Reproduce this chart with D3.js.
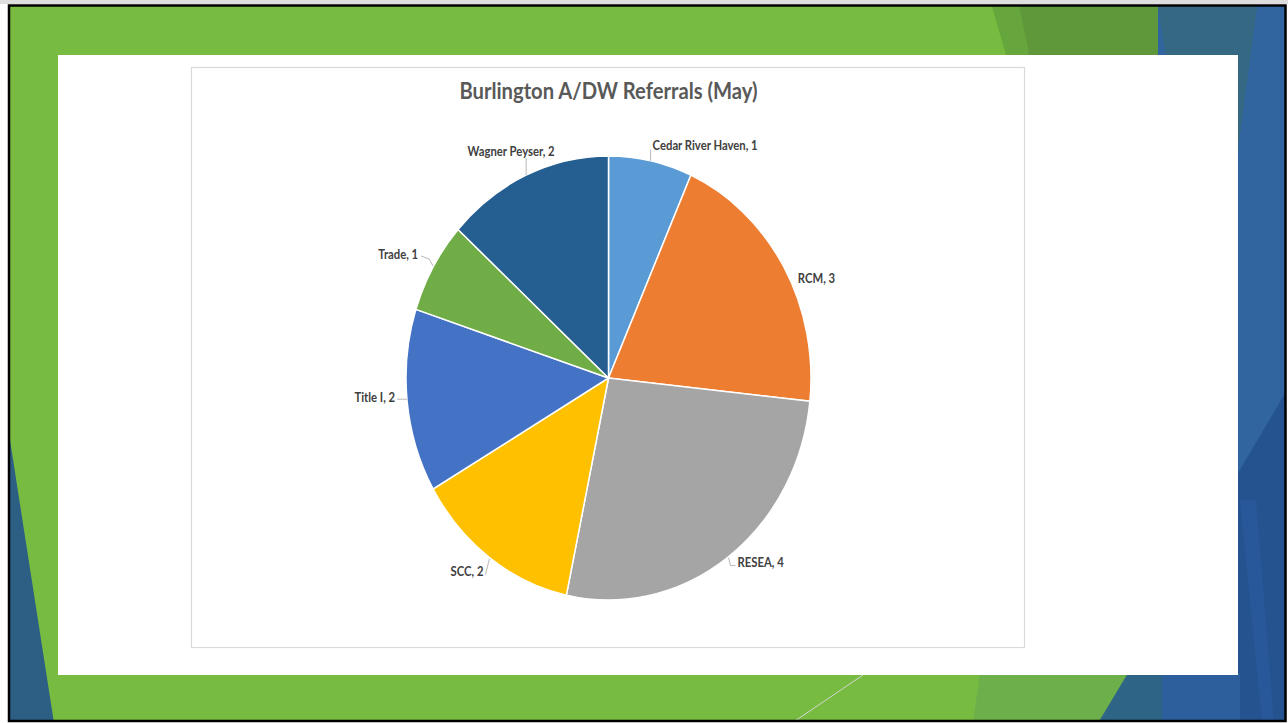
<!DOCTYPE html>
<html>
<head>
<meta charset="utf-8">
<script src="https://cdn.jsdelivr.net/npm/d3@7"></script>
<style>
  html, body { margin: 0; padding: 0; background: #ffffff; }
  svg { display: block; }
</style>
</head>
<body>
<svg id="slide" width="1288" height="723"></svg>
<script>
// Referral counts by program
const categories = ["Cedar River Haven", "RCM", "RESEA", "SCC", "Title I", "Trade", "Wagner Peyser"];
const values = [1, 3, 4, 2, 2, 1, 2];
const sliceColors = ["#5B9BD5", "#ED7D31", "#A5A5A5", "#FFC000", "#4472C4", "#70AD47", "#255E91"];
const chartTitle = "Burlington A/DW Referrals (May)";

const W = 1288, H = 723;
const svg = d3.select("#slide");

// ---------- slide background ----------
svg.append("rect").attr("x", 0).attr("y", 0).attr("width", W).attr("height", 4).attr("fill", "#dedede");
const clipId = "frameClip";
svg.append("clipPath").attr("id", clipId)
  .append("rect").attr("x", 9).attr("y", 6).attr("width", 1276).attr("height", 715);
const bg = svg.append("g").attr("clip-path", `url(#${clipId})`);
bg.append("rect").attr("x", 0).attr("y", 0).attr("width", W).attr("height", H).attr("fill", "#77BB41");

const shapes = [
  // top-right green bands
  { pts: [[990, 0], [1158, 0], [1166, 58], [1007, 58]], fill: "#66A63C" },
  { pts: [[1018, 0], [1158, 0], [1166, 58], [1030, 58]], fill: "#5E983A" },
  // right blue column
  { pts: [[1158, 0], [1290, 0], [1290, 723], [1158, 723]], fill: "#3165A0" },
  { pts: [[1157, 0], [1258, 0], [1238, 150], [1166, 58]], fill: "#356882" },
  { pts: [[1238, 473], [1290, 385], [1290, 723], [1238, 723]], fill: "#24538F" },
  { pts: [[1240, 500], [1256, 500], [1274, 723], [1262, 723]], fill: "#28589A" },
  // bottom-right bands
  { pts: [[980, 673], [1128, 673], [1098, 723], [973, 723]], fill: "#6DB04B" },
  { pts: [[1128, 673], [1162, 673], [1162, 723], [1098, 723]], fill: "#2E6486" },
  { pts: [[1162, 673], [1240, 673], [1240, 723], [1162, 723]], fill: "#2C5F9B" },
  // left blue sliver
  { pts: [[0, 440], [10, 440], [54, 723], [0, 723]], fill: "#2D5F85" }
];
bg.selectAll("polygon.deco").data(shapes).join("polygon")
  .attr("class", "deco")
  .attr("points", d => d.pts.map(p => p.join(",")).join(" "))
  .attr("fill", d => d.fill);

bg.append("line").attr("x1", 792).attr("y1", 723).attr("x2", 863).attr("y2", 675)
  .attr("stroke", "#d6d6d6").attr("stroke-width", 1);

// frame border
svg.append("rect").attr("x", 9).attr("y", 5.5).attr("width", 1276.5).attr("height", 715.5)
  .attr("fill", "none").attr("stroke", "#000").attr("stroke-width", 2.5);

// white content panel
svg.append("rect").attr("x", 58).attr("y", 55).attr("width", 1180).attr("height", 620).attr("fill", "#ffffff");

// chart box
svg.append("rect").attr("x", 191.5).attr("y", 67.5).attr("width", 833).attr("height", 580)
  .attr("fill", "#ffffff").attr("stroke", "#d9d9d9").attr("stroke-width", 1.2);

// ---------- chart ----------
const cx = 608.5, cy = 378, ry = 222, rx = 202.5;
const stretch = ry / rx;  // chart is drawn slightly taller than wide

svg.append("text")
  .attr("x", 0).attr("y", 0)
  .attr("transform", `translate(${cx},${99}) scale(1,${stretch})`)
  .attr("text-anchor", "middle")
  .attr("font-family", "Lato, 'Open Sans', sans-serif")
  .attr("font-weight", 700)
  .attr("font-size", 20.2)
  .attr("fill", "#595959")
  .text(chartTitle);

const pie = d3.pie().sort(null).value(d => d.v);
const arcs = pie(categories.map((c, i) => ({ c, v: values[i], col: sliceColors[i] })));
const arc = d3.arc().innerRadius(0).outerRadius(ry);

const pieG = svg.append("g").attr("transform", `translate(${cx},${cy}) scale(${rx / ry},1)`);
pieG.selectAll("path").data(arcs).join("path")
  .attr("d", arc)
  .attr("fill", d => d.data.col)
  .attr("stroke", "#ffffff")
  .attr("stroke-width", 1.5)
  .attr("vector-effect", "non-scaling-stroke");

// label placement relative to each slice's outer edge midpoint
const labelLayout = {
  "Cedar River Haven": { dx: 2, dy: -16, anchor: "start", leader: [[0, 0], [0, -11]] },
  "RCM":               { dx: 14, dy: 11, anchor: "start", leader: null },
  "RESEA":             { dx: 10, dy: 5, anchor: "start", leader: [[1, 0], [3, 8], [8, 8]] },
  "SCC":               { dx: -6, dy: 14, anchor: "end", leader: [[0, 1], [-4, 17]] },
  "Title I":           { dx: -12, dy: -4, anchor: "end", leader: [[0, -2], [-10, -2]] },
  "Trade":             { dx: -15, dy: -13, anchor: "end", leader: [[0, -1], [-4, -8], [-12, -11]] },
  "Wagner Peyser":     { dx: -15, dy: -24, anchor: "middle", leader: [[0, 0], [0, -17]] }
};

const labels = svg.append("g");
arcs.forEach(d => {
  const a = (d.startAngle + d.endAngle) / 2;
  const ex = cx + rx * Math.sin(a);
  const ey = cy - ry * Math.cos(a);
  const L = labelLayout[d.data.c];
  if (L.leader) {
    labels.append("polyline")
      .attr("points", L.leader.map(p => [ex + p[0], ey + p[1]].join(",")).join(" "))
      .attr("fill", "none").attr("stroke", "#a6a6a6").attr("stroke-width", 0.8);
  }
  labels.append("text")
    .attr("transform", `translate(${ex + L.dx},${ey + L.dy}) scale(1,${stretch})`)
    .attr("text-anchor", L.anchor)
    .attr("dominant-baseline", "central")
    .attr("font-family", "Lato, 'Open Sans', sans-serif")
    .attr("font-weight", 700)
    .attr("font-size", 11.3)
    .attr("fill", "#404040")
    .text(`${d.data.c}, ${d.data.v}`);
});
</script>
</body>
</html>
